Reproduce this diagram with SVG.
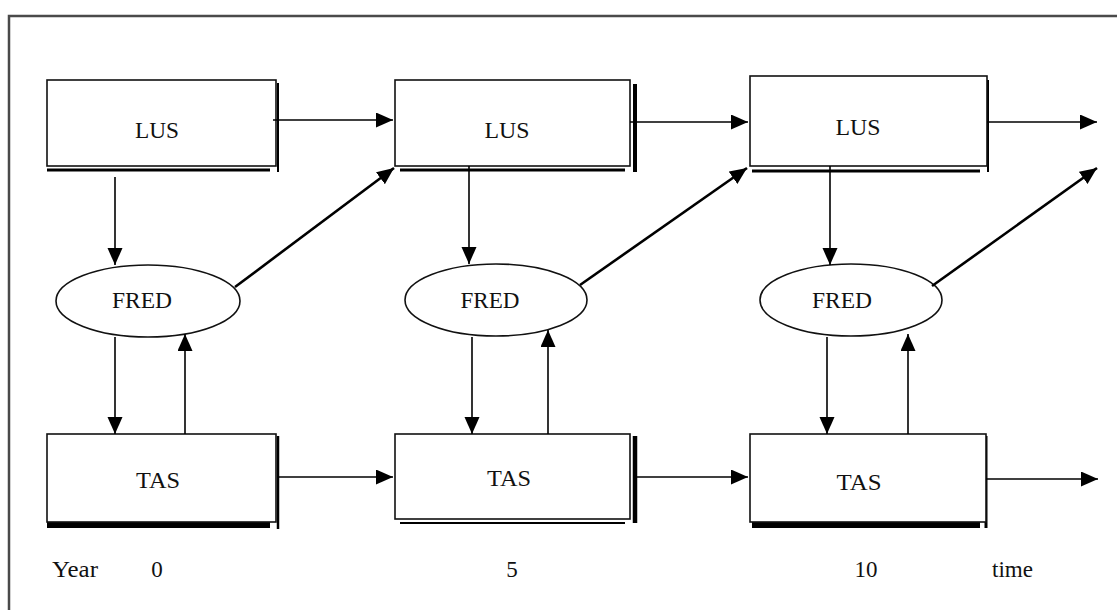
<svg xmlns="http://www.w3.org/2000/svg" width="1117" height="610" viewBox="0 0 1117 610">
<style>
.frame{fill:none;stroke:#4a4a4a;stroke-width:2.5}
.box{fill:#fff;stroke:#111;stroke-width:1.6}
.sh{stroke:#000;fill:none}
.ell{fill:#fff;stroke:#111;stroke-width:1.6}
.t{font-family:"Liberation Serif","Times New Roman",serif;font-size:23px;fill:#111;text-anchor:middle}
.tl{font-family:"Liberation Serif","Times New Roman",serif;font-size:23px;fill:#111}
.c{stroke:#000;stroke-width:1.6;fill:none;marker-end:url(#ah)}
.d{stroke:#000;stroke-width:2.6;fill:none;marker-end:url(#ah)}
</style>
<defs>
<marker id="ah" markerUnits="userSpaceOnUse" markerWidth="18" markerHeight="16" refX="17" refY="7.5" orient="auto">
<path d="M0,0 L17,7.5 L0,15 z" fill="#000"/>
</marker>
</defs>
<rect width="1117" height="610" fill="#fff"/>
<rect class="frame" x="9" y="16" width="1130" height="620"/>

<g id="lus1">
<line class="sh" x1="47" y1="170" x2="270" y2="170" stroke-width="3"/>
<line class="sh" x1="278" y1="83" x2="278" y2="172" stroke-width="2"/>
<rect class="box" x="47" y="80" width="229" height="86"/>
<text class="t" x="157" y="138" textLength="44" lengthAdjust="spacingAndGlyphs">LUS</text>
</g>
<g id="lus2">
<line class="sh" x1="400" y1="170" x2="625" y2="170" stroke-width="3"/>
<line class="sh" x1="635" y1="84" x2="635" y2="172" stroke-width="4"/>
<rect class="box" x="395" y="80" width="235" height="86"/>
<text class="t" x="507" y="138" textLength="45" lengthAdjust="spacingAndGlyphs">LUS</text>
</g>
<g id="lus3">
<line class="sh" x1="752" y1="171" x2="980" y2="171" stroke-width="3"/>
<line class="sh" x1="988" y1="80" x2="988" y2="172" stroke-width="2"/>
<rect class="box" x="750" y="76" width="237" height="90"/>
<text class="t" x="858" y="135" textLength="45" lengthAdjust="spacingAndGlyphs">LUS</text>
</g>

<g id="fred1">
<ellipse class="ell" cx="148" cy="301" rx="92" ry="36"/>
<text class="t" x="142" y="308" textLength="60" lengthAdjust="spacingAndGlyphs">FRED</text>
</g>
<g id="fred2">
<ellipse class="ell" cx="496" cy="300" rx="91" ry="36"/>
<text class="t" x="490" y="308" textLength="59" lengthAdjust="spacingAndGlyphs">FRED</text>
</g>
<g id="fred3">
<ellipse class="ell" cx="851" cy="300" rx="91" ry="36"/>
<text class="t" x="842" y="308" textLength="60" lengthAdjust="spacingAndGlyphs">FRED</text>
</g>

<g id="tas1">
<line class="sh" x1="47" y1="525" x2="270" y2="525" stroke-width="6"/>
<line class="sh" x1="278" y1="436" x2="278" y2="529" stroke-width="2.5"/>
<rect class="box" x="47" y="434" width="229" height="88"/>
<text class="t" x="158" y="488" textLength="44" lengthAdjust="spacingAndGlyphs">TAS</text>
</g>
<g id="tas2">
<line class="sh" x1="400" y1="523" x2="625" y2="523" stroke-width="2"/>
<line class="sh" x1="635" y1="436" x2="635" y2="523" stroke-width="4.5"/>
<rect class="box" x="395" y="434" width="235" height="85"/>
<text class="t" x="509" y="486" textLength="44" lengthAdjust="spacingAndGlyphs">TAS</text>
</g>
<g id="tas3">
<line class="sh" x1="752" y1="525" x2="980" y2="525" stroke-width="6"/>
<line class="sh" x1="986" y1="436" x2="986" y2="528" stroke-width="3"/>
<rect class="box" x="750" y="434" width="236" height="88"/>
<text class="t" x="859" y="490" textLength="45" lengthAdjust="spacingAndGlyphs">TAS</text>
</g>

<g id="connectors">
<line class="c" x1="273" y1="120" x2="393" y2="120"/>
<line class="c" x1="630" y1="122" x2="748" y2="122"/>
<line class="c" x1="987" y1="122" x2="1097" y2="122"/>
<line class="c" x1="115" y1="177" x2="115" y2="265"/>
<line class="c" x1="469" y1="166" x2="469" y2="264"/>
<line class="c" x1="830" y1="166" x2="830" y2="265"/>
<line class="d" x1="235" y1="287" x2="394" y2="168"/>
<line class="d" x1="580" y1="285" x2="747" y2="168"/>
<line class="d" x1="932" y1="286" x2="1097" y2="168"/>
<line class="c" x1="115" y1="337" x2="115" y2="434"/>
<line class="c" x1="472" y1="337" x2="472" y2="434"/>
<line class="c" x1="827" y1="337" x2="827" y2="434"/>
<line class="c" x1="185" y1="434" x2="185" y2="334"/>
<line class="c" x1="548" y1="434" x2="548" y2="330"/>
<line class="c" x1="908" y1="434" x2="908" y2="334"/>
<line class="c" x1="278" y1="477" x2="393" y2="477"/>
<line class="c" x1="635" y1="477" x2="748" y2="477"/>
<line class="c" x1="986" y1="479" x2="1098" y2="479"/>
</g>

<g id="axis">
<text class="tl" x="52" y="577" textLength="46" lengthAdjust="spacingAndGlyphs">Year</text>
<text class="t" x="157" y="577">0</text>
<text class="t" x="512" y="577">5</text>
<text class="t" x="866" y="577">10</text>
<text class="tl" x="992" y="577" textLength="41" lengthAdjust="spacingAndGlyphs">time</text>
</g>
</svg>
